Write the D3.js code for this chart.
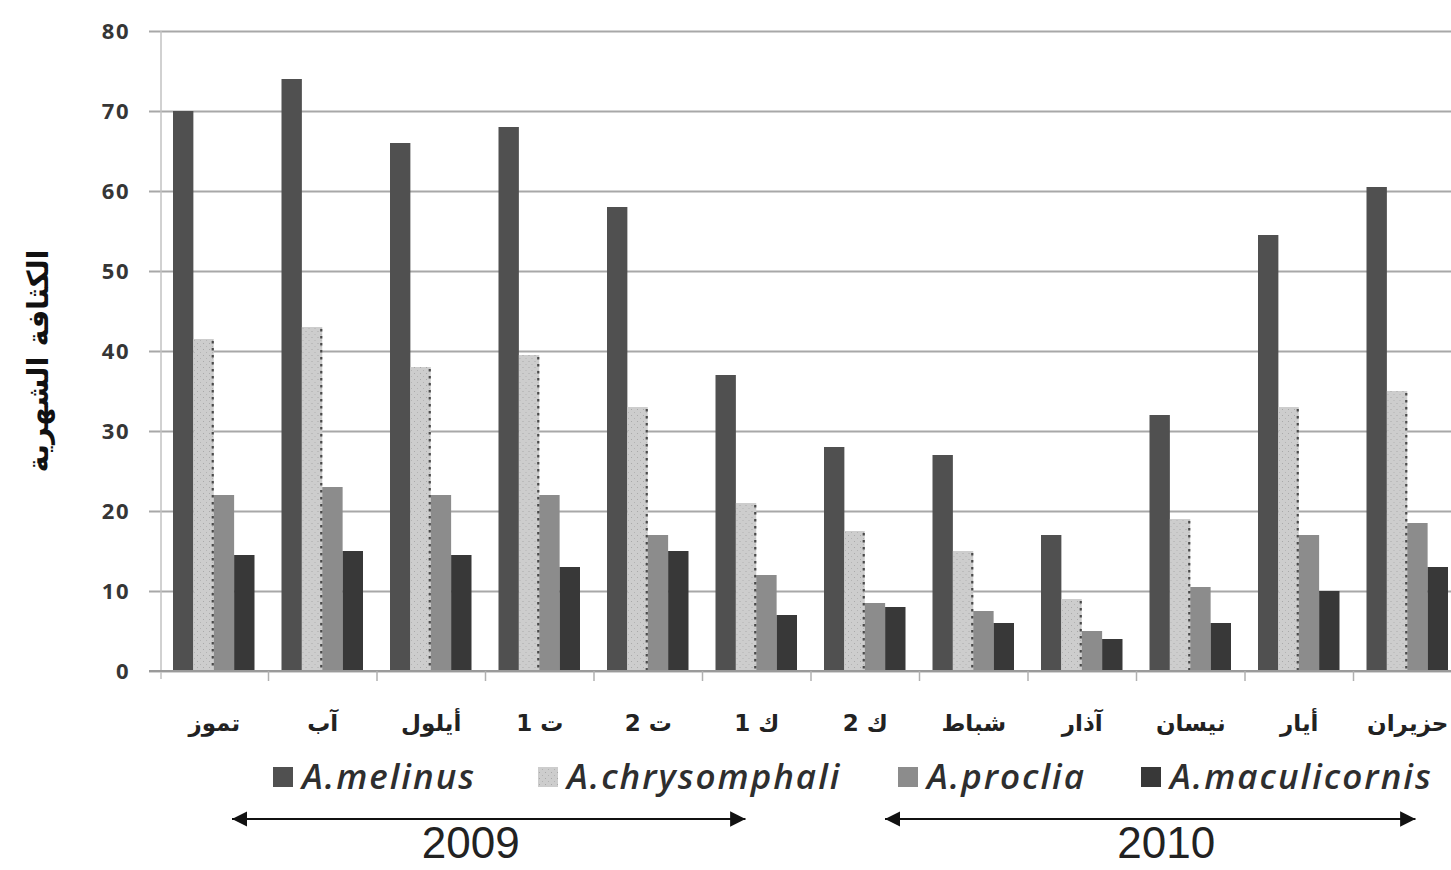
<!DOCTYPE html>
<html lang="ar">
<head>
<meta charset="utf-8">
<script src="https://cdn.jsdelivr.net/npm/d3@7"></script>
<style>
  html, body { margin: 0; padding: 0; background: #ffffff; }
  svg { display: block; }
</style>
</head>
<body>
<svg id="chart" width="1451" height="870"></svg>
<script>
// Monthly density of four parasitoid species, July 2009 – June 2010
const months = ["تموز", "آب", "أيلول", "ت 1", "ت 2", "ك 1", "ك 2", "شباط", "آذار", "نيسان", "أيار", "حزيران"];
const seriesNames = ["A.melinus", "A.chrysomphali", "A.proclia", "A.maculicornis"];
const melinus      = [70, 74, 66, 68, 58, 37, 28, 27, 17, 32, 54.5, 60.5];
const chrysomphali = [41.5, 43, 38, 39.5, 33, 21, 17.5, 15, 9, 19, 33, 35];
const proclia      = [22, 23, 22, 22, 17, 12, 8.5, 7.5, 5, 10.5, 17, 18.5];
const maculicornis = [14.5, 15, 14.5, 13, 15, 7, 8, 6, 4, 6, 10, 13];
const yTicks = [0, 10, 20, 30, 40, 50, 60, 70, 80];
const yearSpans = [
  { label: "2009", from: "تموز", to: "ك 1" },
  { label: "2010", from: "ك 2", to: "حزيران" }
];
const yTitle = "الكثافة الشهرية";

const seriesValues = [melinus, chrysomphali, proclia, maculicornis];
const fills = ["#505050", "url(#dots)", "#8c8c8c", "#383838"];

const svg = d3.select("#chart");
const W = 1451;
const plot = { left: 160, right: 1462, top: 31, bottom: 671 };

// patterned fill for the light series
const defs = svg.append("defs");
const pat = defs.append("pattern")
  .attr("id", "dots").attr("patternUnits", "userSpaceOnUse")
  .attr("width", 6).attr("height", 6);
pat.append("rect").attr("width", 6).attr("height", 6).attr("fill", "#cdcdcd");
pat.append("rect").attr("x", 1).attr("y", 1).attr("width", 1).attr("height", 1).attr("fill", "#a9a9a9");
pat.append("rect").attr("x", 4).attr("y", 4).attr("width", 1).attr("height", 1).attr("fill", "#b3b3b3");

defs.append("marker")
  .attr("id", "arrow").attr("viewBox", "0 0 10 10")
  .attr("refX", 10).attr("refY", 5)
  .attr("markerWidth", 7).attr("markerHeight", 7)
  .attr("markerUnits", "strokeWidth")
  .attr("orient", "auto-start-reverse")
  .append("path").attr("d", "M0,0 L10,5 L0,10 z").attr("fill", "#111");

const x0 = d3.scaleBand().domain(months).range([plot.left, plot.right]);
const x1 = d3.scaleBand().domain(seriesNames)
  .range([13, x0.bandwidth() - 14]);
const y = d3.scaleLinear().domain([0, 80]).range([plot.bottom, plot.top]);

// horizontal gridlines with left ticks
const yAxis = d3.axisLeft(y).tickValues(yTicks).tickSize(-(W - plot.left)).tickFormat(d3.format("d"));
const gy = svg.append("g").attr("transform", `translate(${plot.left},0)`).call(yAxis);
gy.select(".domain").remove();
gy.selectAll(".tick line").attr("x1", -11).attr("stroke", "#a8a8a8").attr("stroke-width", 2);
gy.selectAll(".tick text")
  .attr("x", -30)
  .attr("fill", "#363636")
  .style("font-family", "'Open Sans', sans-serif")
  .style("font-weight", "bold")
  .style("font-size", "22px")
  .style("letter-spacing", "1.5px");

// vertical axis line
svg.append("line")
  .attr("x1", plot.left + 1).attr("x2", plot.left + 1)
  .attr("y1", plot.top).attr("y2", plot.bottom + 8)
  .attr("stroke", "#c2c2c2").attr("stroke-width", 1.5);

// bars
const groups = svg.append("g").selectAll("g")
  .data(months).join("g")
  .attr("transform", d => `translate(${x0(d)},0)`);

groups.selectAll("rect")
  .data((m, i) => seriesNames.map((s, k) => ({ s, k, v: seriesValues[k][i] })))
  .join("rect")
  .attr("x", d => x1(d.s))
  .attr("width", x1.bandwidth())
  .attr("y", d => y(d.v))
  .attr("height", d => y(0) - y(d.v))
  .attr("fill", d => fills[d.k]);

// dotted right edge of the patterned bars
groups.selectAll("line.edge")
  .data((m, i) => [{ v: chrysomphali[i] }])
  .join("line")
  .attr("class", "edge")
  .attr("x1", x1("A.chrysomphali") + x1.bandwidth() - 1)
  .attr("x2", x1("A.chrysomphali") + x1.bandwidth() - 1)
  .attr("y1", d => y(d.v) + 2)
  .attr("y2", y(0))
  .attr("stroke", "#4a4a4a").attr("stroke-width", 2.2)
  .attr("stroke-dasharray", "2.5,4.5");

// x axis
const xAxis = d3.axisBottom(x0).tickSize(0).tickPadding(44);
const gx = svg.append("g").attr("transform", `translate(0,${plot.bottom})`).call(xAxis);
gx.select(".domain").attr("stroke", "#9a9a9a").attr("stroke-width", 2)
  .attr("d", `M${plot.left - 11},0H${W}`);
gx.selectAll(".tick text")
  .attr("fill", "#222")
  .attr("direction", "rtl")
  .style("font-family", "'DejaVu Sans', sans-serif")
  .style("font-weight", "bold")
  .style("font-size", "23px");
// band-boundary ticks
svg.append("g").selectAll("line")
  .data(months)
  .join("line")
  .attr("x1", d => x0(d) + x0.bandwidth())
  .attr("x2", d => x0(d) + x0.bandwidth())
  .attr("y1", plot.bottom).attr("y2", plot.bottom + 10)
  .attr("stroke", "#b0b0b0").attr("stroke-width", 1.5);

// y axis title
svg.append("text")
  .attr("transform", `translate(48,${(plot.top + plot.bottom) / 2 + 10}) rotate(-90)`)
  .attr("text-anchor", "middle")
  .attr("direction", "rtl")
  .attr("fill", "#111")
  .style("font-family", "'DejaVu Sans', sans-serif")
  .style("font-weight", "bold")
  .style("font-size", "29px")
  .text(yTitle);

// legend
const legendX = [273, 538, 898, 1141];
const legend = svg.append("g").attr("transform", "translate(0,777)");
seriesNames.forEach((name, k) => {
  const item = legend.append("g").attr("transform", `translate(${legendX[k]},0)`);
  item.append("rect").attr("x", 0).attr("y", -10).attr("width", 20).attr("height", 20)
    .attr("fill", fills[k]);
  item.append("text")
    .attr("x", 29).attr("y", 12)
    .attr("fill", "#2e2e2e")
    .style("font-family", "'Open Sans', sans-serif")
    .style("font-style", "italic")
    .style("font-weight", 600)
    .style("font-size", "35px")
    .style("letter-spacing", "2px")
    .text(name);
});

// year spans with double-headed arrows
const arrowEnds = [[72, 43], [74, 62]];
const labelShift = [-18, 16];
yearSpans.forEach((span, i) => {
  const xa = x0(span.from) + arrowEnds[i][0];
  const xb = x0(span.to) + arrowEnds[i][1];
  svg.append("line")
    .attr("x1", xa).attr("x2", xb)
    .attr("y1", 819).attr("y2", 819)
    .attr("stroke", "#111").attr("stroke-width", 2.2)
    .attr("marker-start", "url(#arrow)")
    .attr("marker-end", "url(#arrow)");
  svg.append("text")
    .attr("x", (xa + xb) / 2 + labelShift[i]).attr("y", 858)
    .attr("text-anchor", "middle")
    .attr("fill", "#222")
    .style("font-family", "'Liberation Sans', Arial, sans-serif")
    .style("font-size", "44px")
    .text(span.label);
});
</script>
</body>
</html>
